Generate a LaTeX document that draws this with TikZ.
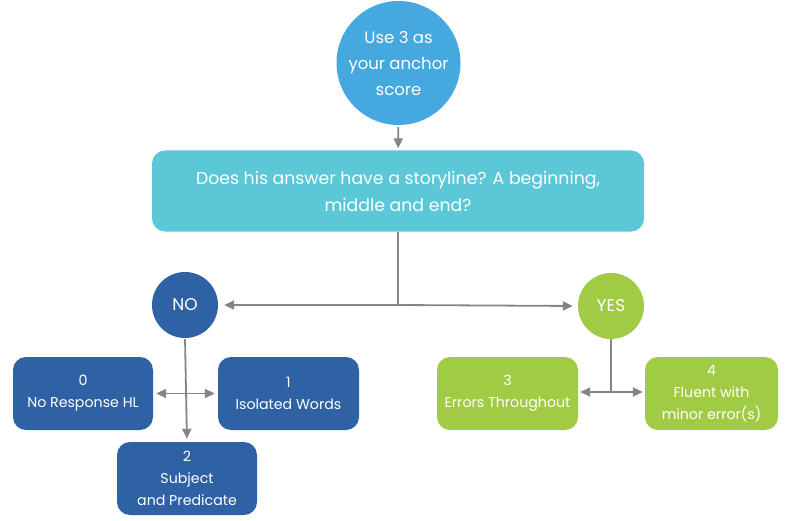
\documentclass[tikz,border=0pt]{standalone}
\usepackage{fontspec}
\setmainfont{Poppins}
\usetikzlibrary{arrows.meta}
\definecolor{topblue}{HTML}{45A8DF}
\definecolor{qcyan}{HTML}{5BC7D7}
\definecolor{noblue}{HTML}{2F62A4}
\definecolor{yesgreen}{HTML}{A2CB45}
\definecolor{arrgray}{HTML}{858585}
\tikzset{
  txt/.style={text=white, align=center, font=\fontsize{16.5}{26}\selectfont},
  circ/.style={circle, txt, inner sep=0pt},
  rbox/.style={rectangle, rounded corners=13pt, txt, inner sep=0pt, font=\fontsize{14.2}{22}\selectfont},
  conn/.style={draw=arrgray, line width=1.8pt},
  tip/.style={-{Triangle[length=10pt,width=9pt]}},
  dtip/.style={{Triangle[length=10pt,width=9pt]}-{Triangle[length=10pt,width=9pt]}}
}
\begin{document}
\begin{tikzpicture}[x=1pt,y=1pt]
\useasboundingbox (0,0) rectangle (786,520);
% top circle
\node[circ, fill=topblue, minimum size=124pt] (top) at (398.5,457) {Use 3 as\\your anchor\\score};
% question box
\node[rbox, fill=qcyan, minimum width=492pt, minimum height=81pt, font=\fontsize{17.3}{27}\selectfont] (q) at (398,329) {Does his answer have a storyline? A beginning,\\middle and end?};
% NO and YES
\node[circ, fill=noblue, minimum size=66pt, font=\fontsize{17}{20}\selectfont] (no) at (185,215) {NO};
\node[circ, fill=yesgreen, minimum size=66pt, font=\fontsize{17}{20}\selectfont] (yes) at (611,214) {YES};
% score boxes
\node[rbox, fill=noblue, minimum width=140pt, minimum height=73pt] (b0) at (83,126.5) {0\\No Response HL};
\node[rbox, fill=noblue, minimum width=141pt, minimum height=73pt] (b1) at (288.5,126.5) {1\\Isolated Words};
\node[rbox, fill=noblue, minimum width=140pt, minimum height=73pt] (b2) at (187,41.5) {2\\Subject\\and Predicate};
\node[rbox, fill=yesgreen, minimum width=141pt, minimum height=73pt] (b3) at (507.5,126.5) {3\\Errors Throughout};
\node[rbox, fill=yesgreen, minimum width=133pt, minimum height=73pt] (b4) at (711.5,126.5) {4\\Fluent with\\minor error(s)};
% connectors
\coordinate (j) at (398,215);
\coordinate (jy) at (611,128);
\draw[conn, tip, shorten <=2pt, shorten >=2pt] (top) -- (q);
\draw[conn] (q.south) -- (j);
\draw[conn, tip, shorten >=6pt] (j) -- (no.east);
\draw[conn, tip, shorten >=5pt] (j) -- (yes.west);
\draw[conn, tip, shorten <=1pt, shorten >=3pt] (no.south) -- (b2.north);
\draw[conn, dtip, shorten <=3pt, shorten >=3pt] (b0.east) -- (b1.west);
\draw[conn] (yes.south) -- (jy);
\draw[conn, tip, shorten >=2pt] (jy) -- (b3.east |- jy);
\draw[conn, tip, shorten >=2pt] (jy) -- (b4.west |- jy);
\end{tikzpicture}
\end{document}
